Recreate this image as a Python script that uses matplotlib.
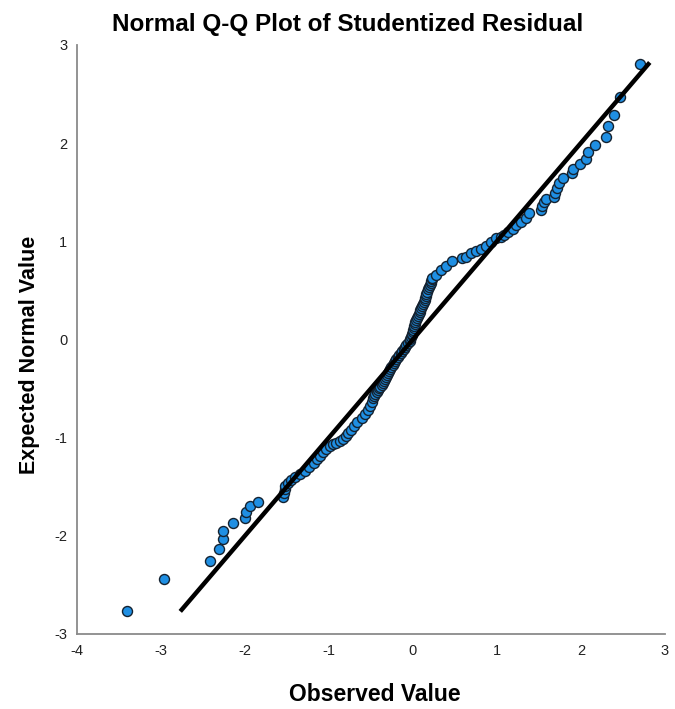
import matplotlib
matplotlib.use("Agg")
import matplotlib.pyplot as plt

# Normal Q-Q plot of studentized residual

title = "Normal Q-Q Plot of Studentized Residual"
x_label = "Observed Value"
y_label = "Expected Normal Value"
x_ticks = [-4, -3, -2, -1, 0, 1, 2, 3]
y_ticks = [-3, -2, -1, 0, 1, 2, 3]

# lower tail
tail_low_obs = [-3.41, -2.96, -2.42, -2.31, -2.26, -2.26, -2.14, -2.00, -1.99, -1.94, -1.84]
tail_low_exp = [-2.77, -2.44, -2.26, -2.13, -2.03, -1.95, -1.87, -1.82, -1.76, -1.70, -1.66]

# lower band, right of the reference line
band_low_obs = [
    -1.55, -1.53, -1.52, -1.52, -1.49, -1.45, -1.40, -1.34, -1.29, -1.24,
    -1.18, -1.14, -1.11, -1.07, -1.03, -0.99, -0.95, -0.91, -0.87, -0.83,
    -0.80, -0.77, -0.74, -0.70, -0.66, -0.61, -0.57, -0.54, -0.51, -0.49,
]
band_low_exp = [
    -1.61, -1.56, -1.52, -1.49, -1.46, -1.43, -1.40, -1.37, -1.34, -1.30,
    -1.26, -1.22, -1.19, -1.15, -1.12, -1.09, -1.07, -1.05, -1.03, -1.01,
    -0.98, -0.95, -0.92, -0.88, -0.84, -0.80, -0.76, -0.72, -0.68, -0.64,
]

# dense centre
centre_obs = [
    -0.47, -0.46, -0.45, -0.43, -0.42, -0.40, -0.39, -0.37, -0.36, -0.35,
    -0.33, -0.32, -0.31, -0.30, -0.29, -0.27, -0.26, -0.24, -0.23, -0.21,
    -0.20, -0.18, -0.16, -0.14, -0.13, -0.11, -0.10, -0.08, -0.06, -0.04,
    -0.03, -0.02, -0.01, -0.01, 0.00, 0.00, 0.01, 0.01, 0.02, 0.03,
    0.04, 0.05, 0.06, 0.07, 0.08, 0.09, 0.10, 0.11, 0.12, 0.13,
    0.14, 0.14, 0.15, 0.16, 0.17, 0.18, 0.19, 0.20, 0.21, 0.22,
    0.23, 0.23,
]
centre_exp = [
    -0.60, -0.58, -0.56, -0.54, -0.52, -0.50, -0.48, -0.46, -0.44, -0.42,
    -0.40, -0.38, -0.36, -0.34, -0.32, -0.30, -0.28, -0.26, -0.24, -0.22,
    -0.20, -0.18, -0.16, -0.14, -0.12, -0.10, -0.08, -0.06, -0.04, -0.02,
    0.00, 0.02, 0.04, 0.06, 0.08, 0.10, 0.12, 0.14, 0.16, 0.18,
    0.20, 0.22, 0.24, 0.26, 0.28, 0.30, 0.32, 0.34, 0.36, 0.38,
    0.40, 0.42, 0.44, 0.46, 0.48, 0.51, 0.53, 0.55, 0.57, 0.59,
    0.61, 0.63,
]

# upper band and tail
tail_high_obs = [
    0.27, 0.33, 0.39, 0.47, 0.59, 0.63, 0.69, 0.75, 0.81, 0.87,
    0.93, 0.99, 1.05, 1.09, 1.13, 1.19, 1.23, 1.29, 1.35, 1.38,
    1.52, 1.54, 1.56, 1.59, 1.68, 1.69, 1.71, 1.74, 1.79, 1.90,
    1.91, 1.99, 2.06, 2.09, 2.17, 2.30, 2.32, 2.40, 2.46, 2.70,
]
tail_high_exp = [
    0.66, 0.71, 0.75, 0.80, 0.83, 0.84, 0.88, 0.90, 0.92, 0.95,
    0.99, 1.03, 1.04, 1.06, 1.09, 1.12, 1.17, 1.20, 1.24, 1.29,
    1.32, 1.36, 1.40, 1.43, 1.45, 1.49, 1.54, 1.59, 1.64, 1.69,
    1.74, 1.79, 1.84, 1.91, 1.98, 2.06, 2.17, 2.29, 2.47, 2.80,
]

# reference line y = x
line_ends = [-2.77, 2.82]

observed = tail_low_obs + band_low_obs + centre_obs + tail_high_obs
expected = tail_low_exp + band_low_exp + centre_exp + tail_high_exp

plt.rcParams['font.family'] = ['Liberation Sans', 'DejaVu Sans']
plt.rcParams['axes.unicode_minus'] = False

fig = plt.figure(figsize=(6.75, 7.09), dpi=100)
ax = fig.add_axes([0.114, 0.1058, 0.871, 0.831])

ax.scatter(observed, expected, s=52, color="#1f8fe3", edgecolors="#142230",
           linewidths=1.0, zorder=2)
ax.plot(line_ends, line_ends, color="black", linewidth=3.2, zorder=3,
        solid_capstyle="butt")

ax.set_xlim(-4, 3)
ax.set_ylim(-3, 3)
ax.set_xticks(x_ticks)
ax.set_yticks(y_ticks)
ax.tick_params(length=0, labelsize=10.5, colors="#222222", pad=7)

for side in ["top", "right"]:
    ax.spines[side].set_visible(False)
for side in ["left", "bottom"]:
    ax.spines[side].set_color("#8a8a8a")
    ax.spines[side].set_linewidth(1.3)

fig.text(0.515, 0.966, title, ha="center", va="center", fontsize=17.5,
         fontweight="bold")
fig.text(0.555, 0.021, x_label, ha="center", va="center", fontsize=16.5,
         fontweight="bold")
fig.text(0.043, 0.5, y_label, ha="center", va="center", rotation=90,
         fontsize=15.5, fontweight="bold")

fig.savefig("out.png", dpi=100)
